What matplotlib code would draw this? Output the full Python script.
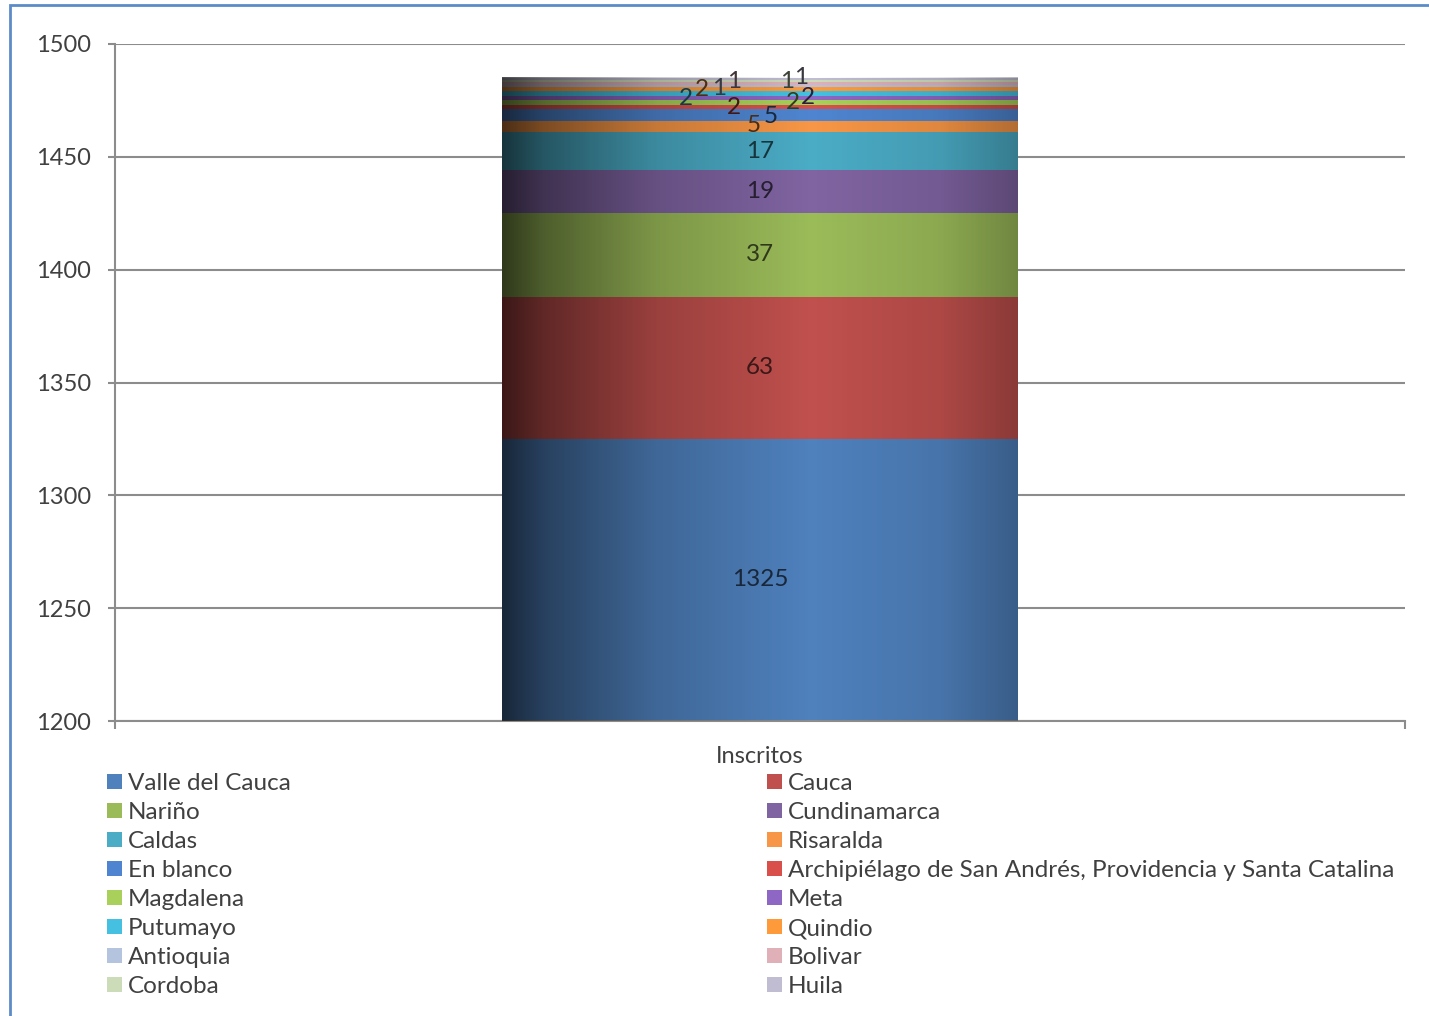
import numpy as np
import matplotlib
matplotlib.use('Agg')
import matplotlib.pyplot as plt
from matplotlib.patches import Patch, Rectangle
from matplotlib.colors import to_rgb

plt.rcParams['font.family'] = ['Lato', 'DejaVu Sans']

# data
categoria = 'Inscritos'
departamentos = ['Valle del Cauca', 'Cauca', 'Nariño', 'Cundinamarca', 'Caldas',
                 'Risaralda', 'En blanco',
                 'Archipiélago de San Andrés, Providencia y Santa Catalina',
                 'Magdalena', 'Meta', 'Putumayo', 'Quindio', 'Antioquia',
                 'Bolivar', 'Cordoba', 'Huila']
inscritos = [1325, 63, 37, 19, 17, 5, 5, 2, 2, 2, 2, 2, 1, 1, 1, 1]
colores = ['#4F81BD', '#C0504D', '#9BBB59', '#8064A2', '#4BACC6', '#F79646',
           '#4F85D0', '#D9504A', '#A8D05A', '#8E66C4', '#45C0E0', '#FF9A3A',
           '#B4C4DE', '#E0B0B8', '#CCDCB8', '#C0BCD2']
y_ticks = [1200, 1250, 1300, 1350, 1400, 1450, 1500]

# where Excel pushed the small labels (pixel offsets from segment centre, + = down)
label_dx = [0, 0, 0, 0, 0, -6, 11, -26, 33, 48, -74, -58, -41, -26, 27, 41]
label_dy = [0, 0, 0, 0, 0, -1, 1, 0, 0, -1, 5, 0.5, 2.4, -2.4, 0, -1]

W, H, DPI = 1429, 1016, 100
fig = plt.figure(figsize=(W / DPI, H / DPI), dpi=DPI)
ax = fig.add_axes([115 / W, 1 - 721 / H, (1405 - 115) / W, (721 - 44) / H])

gris = '#8C8C8C'
texto = '#404040'
ymin, ymax = 1200, 1500

# stacked bar
bottom = 0
bars = []
for nombre, v, c in zip(departamentos, inscritos, colores):
    b = ax.bar(0, v, width=0.4, bottom=bottom, color=c, edgecolor='none',
               label=nombre, zorder=2)
    bars.append(b[0])
    bottom += v

# horizontal shading like the Excel gradient fill
x0 = bars[0].get_x()
x1 = x0 + bars[0].get_width()
t = np.linspace(0, 1, 400)
f = np.interp(t, [0, 0.08, 0.3, 0.6, 0.85, 1.0], [0.3, 0.5, 0.8, 1.0, 0.9, 0.72])
shade = np.zeros((1, len(t), 4))
shade[0, :, 3] = 1 - f
ax.imshow(shade, extent=(x0, x1, 0, bottom), aspect='auto', zorder=3,
          interpolation='bilinear')

# data labels, centred on the visible part of each segment
px2pt = 72 / DPI
for b, v, c, dx, dy in zip(bars, inscritos, colores, label_dx, label_dy):
    lo = max(b.get_y(), ymin)
    hi = min(b.get_y() + b.get_height(), ymax)
    cy = (lo + hi) / 2
    lab = tuple(0.3 * np.array(to_rgb(c)))
    ax.annotate(str(v), (0, cy), xytext=(dx * px2pt, -dy * px2pt),
                textcoords='offset points', ha='center', va='center',
                fontsize=17.5, color=lab, zorder=5)

ax.set_xlim(-0.5, 0.5)
ax.set_ylim(ymin, ymax)
ax.set_yticks(y_ticks)
ax.set_yticklabels([str(v) for v in y_ticks])
ax.set_xticks([0])
ax.set_xticklabels([categoria])
ax.set_xticks([-0.5, 0.5], minor=True)
ax.tick_params(axis='x', which='major', length=0, pad=18, labelsize=17,
               labelcolor=texto)
ax.tick_params(axis='x', which='minor', length=6, color=gris, width=1.5)
ax.tick_params(axis='y', length=5, color=gris, width=1.5, pad=12,
               labelsize=17, labelcolor=texto)
ax.grid(axis='y', color=gris, lw=1.5, zorder=0)
ax.set_axisbelow(True)
for s in ['top', 'right']:
    ax.spines[s].set_visible(False)
for s in ['left', 'bottom']:
    ax.spines[s].set_color(gris)
    ax.spines[s].set_linewidth(1.5)

# legend in two columns, read row by row
handles = [Patch(facecolor=c, edgecolor='none') for c in colores]
izq = [0, 2, 4, 6, 8, 10, 12, 14]
der = [1, 3, 5, 7, 9, 11, 13, 15]
for idx, xa in [(izq, 107), (der, 767)]:
    fig.legend([handles[i] for i in idx], [departamentos[i] for i in idx],
               loc='upper left', bbox_to_anchor=(xa / W, 1 - 773 / H),
               frameon=False, fontsize=17.5, labelcolor=texto,
               handlelength=0.6, handleheight=0.6, handletextpad=0.25,
               labelspacing=0.33, borderpad=0, borderaxespad=0)

# blue frame around the chart area
fig.patches.append(Rectangle((10 / W, -0.05), 1.1, 1.05 - 5 / H,
                             transform=fig.transFigure, fill=False,
                             edgecolor='#5B8CC8', lw=2))

fig.savefig('out.png', dpi=DPI)
